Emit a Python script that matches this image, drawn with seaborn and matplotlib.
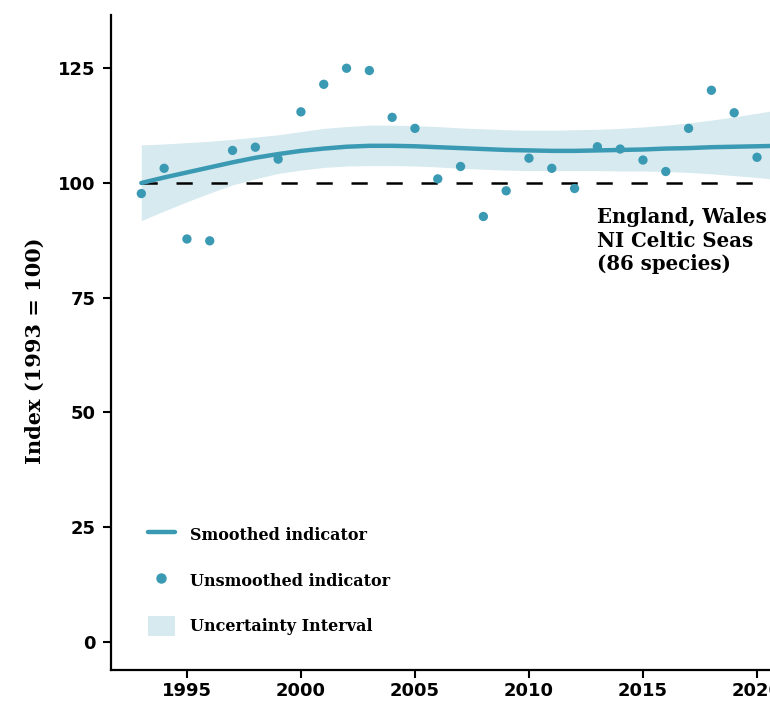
import numpy as np
import pandas as pd
import matplotlib
matplotlib.use("Agg")
import matplotlib.pyplot as plt
import seaborn as sns
from matplotlib.lines import Line2D
from matplotlib.patches import Patch

# Unsmoothed indicator, 1993-2020
years = list(range(1993, 2021))
unsmoothed = [97.7, 103.2, 87.8, 87.4, 107.1, 107.8, 105.2, 115.5, 121.5, 125.0,
              124.5, 114.3, 111.9, 100.9, 103.6, 92.7, 98.3, 105.4, 103.2, 98.8,
              107.9, 107.4, 105.0, 102.5, 111.9, 120.2, 115.3, 105.6]

# Smoothed trend and uncertainty band, 1993-2021
smooth_years = list(range(1993, 2022))
smoothed = [100.0, 101.2, 102.3, 103.4, 104.5, 105.5, 106.3, 107.0, 107.5, 107.9,
            108.1, 108.1, 108.0, 107.8, 107.6, 107.4, 107.2, 107.1, 107.0, 107.0,
            107.1, 107.2, 107.3, 107.5, 107.6, 107.8, 107.9, 108.0, 108.1]
lower = [91.8, 93.9, 95.9, 97.8, 99.6, 100.9, 102.1, 102.8, 103.4, 103.7,
         103.8, 103.8, 103.7, 103.5, 103.2, 103.0, 102.8, 102.7, 102.7, 102.7,
         102.7, 102.6, 102.6, 102.5, 102.3, 102.0, 101.6, 101.2, 100.7]
upper = [108.3, 108.5, 108.8, 109.1, 109.5, 110.0, 110.5, 111.2, 111.9, 112.3,
         112.6, 112.6, 112.5, 112.3, 112.0, 111.8, 111.6, 111.5, 111.5, 111.6,
         111.7, 111.9, 112.2, 112.6, 113.1, 113.7, 114.4, 115.2, 116.0]

TEAL = "#3b9ab3"
BAND = "#d7eaef"
SLAB = "DejaVu Serif"

pts = pd.DataFrame({"year": years, "index": unsmoothed})
trend = pd.DataFrame({"year": smooth_years, "index": smoothed, "lo": lower, "hi": upper})

sns.set_theme(style="ticks")
plt.rcParams["font.family"] = ["DejaVu Sans"]
plt.rcParams["text.color"] = "black"
plt.rcParams["axes.labelcolor"] = "black"
plt.rcParams["xtick.color"] = "black"
plt.rcParams["ytick.color"] = "black"

fig = plt.figure(figsize=(7.7, 7.02), dpi=100)
ax = fig.add_axes([111 / 770, 32 / 702, 1 - 111 / 770, 655 / 702])

ax.fill_between(trend["year"], trend["lo"], trend["hi"], color=BAND, lw=0, zorder=1)
ax.plot([1993, 2025], [100, 100], color="black", lw=1.8, dashes=(6.5, 7.5), zorder=2)
sns.lineplot(data=trend, x="year", y="index", color=TEAL, lw=3.2, ax=ax, zorder=3)
sns.scatterplot(data=pts, x="year", y="index", color=TEAL, s=45, edgecolor="none",
                ax=ax, zorder=4, legend=False)

ax.set_xlim(1991.67, 2020.57)
ax.set_ylim(-6.1, 136.6)
ax.set_xticks([1995, 2000, 2005, 2010, 2015, 2020])
ax.set_yticks([0, 25, 50, 75, 100, 125])
ax.set_xlabel("")
ax.set_ylabel("Index (1993 = 100)", family=SLAB, fontweight="bold", fontsize=15)
ax.yaxis.set_label_coords(-0.101, 0.487)

sns.despine(ax=ax)
for s in ["left", "bottom"]:
    ax.spines[s].set_linewidth(1.6)
    ax.spines[s].set_color("black")
ax.tick_params(axis="both", length=6, width=1.5, labelsize=13)
ax.tick_params(axis="x", pad=3)
ax.tick_params(axis="y", pad=5)
for lab in ax.get_xticklabels() + ax.get_yticklabels():
    lab.set_fontweight("bold")

ax.text(2013.0, 94.7, "England, Wales\nNI Celtic Seas\n(86 species)", ha="left", va="top",
        family=SLAB, fontweight="bold", fontsize=14.2, linespacing=1.2)

handles = [
    Line2D([], [], color=TEAL, lw=3.2),
    Line2D([], [], color=TEAL, marker="o", ls="none", markersize=6.5),
    Patch(facecolor=BAND, edgecolor="none"),
]
labels = ["Smoothed indicator", "Unsmoothed indicator", "Uncertainty Interval"]
ax.legend(handles, labels, loc="lower left", bbox_to_anchor=(0.056, 0.052),
          frameon=False, borderpad=0, borderaxespad=0, handlelength=1.7,
          handleheight=1.55, handletextpad=0.95, labelspacing=1.6,
          prop={"family": SLAB, "weight": "bold", "size": 11.5})

plt.savefig("out.png", dpi=100)
